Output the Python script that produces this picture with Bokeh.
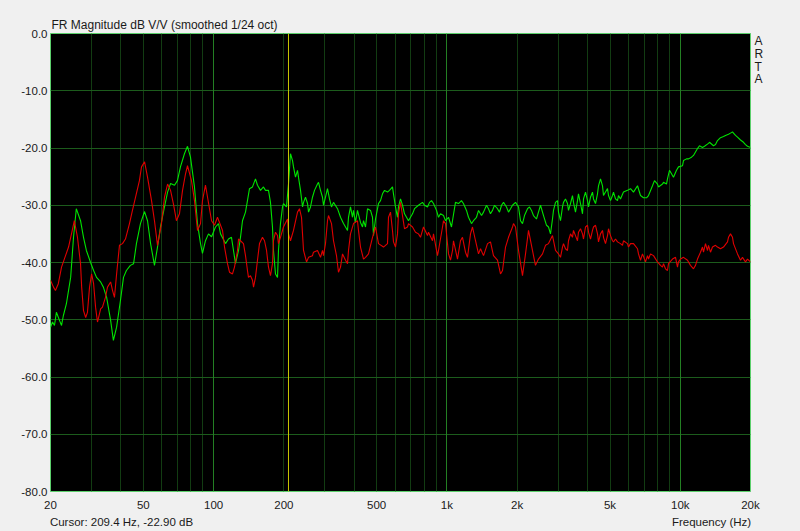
from bokeh.plotting import figure
from bokeh.models import FixedTicker, Grid, Span, Title, LogAxis, LinearAxis
from bokeh.embed import file_html
from bokeh.resources import INLINE

# ---------------- data ----------------
title_text = "FR Magnitude dB V/V (smoothed 1/24 oct)"
cursor_text = "Cursor: 209.4 Hz, -22.90 dB"
x_label_text = "Frequency (Hz)"
brand_letters = ["A", "R", "T", "A"]
cursor_freq = 209.4

x_ticks = [20, 50, 100, 200, 500, 1000, 2000, 5000, 10000, 20000]
x_tick_labels = ["20", "50", "100", "200", "500", "1k", "2k", "5k", "10k", "20k"]
y_ticks = [0, -10, -20, -30, -40, -50, -60, -70, -80]
y_tick_labels = ["0.0", "-10.0", "-20.0", "-30.0", "-40.0", "-50.0", "-60.0", "-70.0", "-80.0"]
decade_lines = [100, 1000, 10000]
minor_lines = [30, 40, 50, 60, 70, 80, 90, 200, 300, 400, 500, 600, 700, 800, 900,
               2000, 3000, 4000, 5000, 6000, 7000, 8000, 9000]
h_lines = [-10, -20, -30, -40, -50, -60, -70]

green_freq = [20.0, 20.4, 20.8, 21.2, 21.9, 22.3, 22.7, 23.4, 24.4, 25.1, 25.8, 26.9, 27.7, 28.5, 29.7,
              30.6, 31.5, 32.8, 33.7, 34.8, 36.2, 37.2, 38.4, 39.9, 41.1, 42.3, 44.0, 45.4, 46.7, 48.6,
              50.6, 52.1, 53.7, 55.8, 57.5, 59.2, 61.6, 63.5, 65.4, 68.0, 70.0, 72.1, 75.0, 77.3, 79.6,
              82.8, 85.3, 87.9, 89.6, 92.3, 95.1, 98.0, 101.9, 105.0, 107.1, 112.5, 115.8, 119.3, 121.7,
              124.1, 127.9, 130.4, 133.0, 137.0, 139.7, 142.5, 146.8, 151.2, 154.2, 158.9, 163.6, 166.9,
              171.9, 175.3, 178.8, 180.6, 184.2, 187.9, 189.7, 193.5, 197.4, 199.3, 205.3, 209.4, 213.6,
              217.9, 220.0, 224.4, 228.9, 231.1, 235.8, 240.5, 242.9, 247.7, 252.7, 255.2, 260.2, 265.4,
              270.7, 278.8, 281.6, 287.2, 292.9, 295.8, 301.7, 307.7, 313.9, 320.1, 326.5, 339.7, 349.9,
              360.4, 374.9, 378.6, 386.1, 393.8, 397.7, 405.6, 413.7, 426.2, 434.7, 439.0, 447.8, 456.7,
              470.4, 479.8, 484.5, 494.2, 509.0, 519.2, 529.5, 540.1, 556.3, 567.4, 584.4, 590.2, 602.0,
              614.0, 620.0, 632.5, 645.1, 658.0, 677.7, 684.4, 712.0, 726.2, 755.4, 785.8, 801.5, 825.6,
              842.1, 858.8, 875.9, 902.3, 920.2, 938.6, 966.8, 986.1, 1016, 1046, 1088, 1121, 1154, 1177,
              1213, 1237, 1274, 1300, 1339, 1366, 1407, 1435, 1478, 1507, 1537, 1568, 1599, 1647, 1680,
              1714, 1748, 1800, 1836, 1873, 1910, 1968, 2027, 2067, 2108, 2150, 2215, 2259, 2304, 2349,
              2420, 2468, 2518, 2594, 2672, 2725, 2779, 2834, 2862, 2920, 2978, 3007, 3067, 3128, 3159,
              3222, 3286, 3319, 3385, 3452, 3487, 3556, 3627, 3663, 3737, 3811, 3849, 3926, 4004, 4044,
              4124, 4206, 4248, 4333, 4419, 4463, 4552, 4643, 4689, 4782, 4877, 4926, 5024, 5124, 5175,
              5278, 5383, 5437, 5545, 5711, 5941, 6120, 6304, 6558, 6755, 6958, 7167, 7310, 7603, 7755,
              7988, 8067, 8392, 8475, 8730, 8816, 8992, 9172, 9354, 9636, 9828, 10224, 10325, 10635,
              10847, 11173, 11395, 11623, 11854, 12091, 12454, 12703, 13214, 13345, 13610, 13881, 14159,
              14441, 14875, 15321, 15628, 16096, 16418, 16745, 16911, 17249, 17592, 18121, 18665, 19038,
              19417, 20000]
green_db = [-51.3, -50.4, -51.0, -48.7, -50.2, -51.0, -49.3, -47.2, -42.6, -35.6, -30.6, -32.7, -35.6, -37.9, -40.0,
            -41.4, -42.6, -43.4, -44.3, -46.1, -50.1, -53.6, -51.3, -46.6, -42.6, -41.4, -40.5, -40.2, -36.7, -33.2,
            -31.1, -32.7, -36.7, -40.5, -37.3, -33.8, -30.3, -27.7, -26.2, -26.5, -25.7, -23.3, -21.0, -19.7, -21.6,
            -26.8, -33.2, -36.7, -38.4, -36.2, -35.0, -35.5, -33.8, -33.2, -35.0, -36.7, -35.9, -35.6, -37.9,
            -40.2, -37.9, -35.6, -32.7, -31.2, -29.2, -27.1, -26.8, -25.4, -26.5, -27.4, -26.8, -27.4,
            -27.4, -29.5, -33.8, -37.9, -42.0, -42.6, -37.9, -33.2, -30.3, -29.7, -30.3, -26.3, -21.0,
            -22.2, -23.3, -25.1, -23.9, -25.1, -27.4, -30.3, -29.5, -28.6, -29.7, -31.2, -30.3, -28.6,
            -27.4, -26.3, -26.0, -27.4, -28.6, -30.0, -28.6, -27.1, -28.9, -30.3, -29.5, -30.6, -32.1,
            -33.2, -34.4, -32.1, -30.3, -32.1, -30.9, -33.0, -30.9, -33.0, -33.8, -32.7, -33.8, -30.6,
            -30.9, -32.1, -35.3, -32.4, -29.7, -29.2, -28.0, -27.4, -27.7, -27.4, -26.8, -28.0, -30.3,
            -32.1, -30.3, -28.9, -30.0, -31.5, -32.4, -32.7, -31.5, -30.6, -30.0, -29.5, -30.0, -30.3,
            -29.5, -29.2, -29.7, -30.9, -32.1, -31.5, -31.8, -32.7, -32.1, -33.8, -29.5, -29.7, -29.2, -29.7,
            -30.9, -32.1, -33.2, -32.7, -32.1, -30.9, -31.8, -31.2, -30.0, -30.6, -31.5, -30.9, -30.0, -30.6, -31.2,
            -30.0, -29.5, -30.3, -31.2, -30.6, -30.0, -29.5, -30.3, -32.7, -33.2, -31.8, -30.6, -30.3, -30.9, -31.8,
            -32.4, -31.2, -30.0, -31.8, -33.5, -33.8, -35.0, -32.4, -30.9, -29.5, -29.2, -31.2, -32.7, -30.3, -29.5,
            -28.9, -29.7, -30.9, -29.7, -28.3, -29.5, -31.2, -29.2, -28.0, -29.7, -31.5, -28.9, -27.7, -29.2, -30.3,
            -28.6, -27.7, -28.9, -29.7, -28.0, -26.6, -25.4, -26.6, -28.3, -27.7, -27.1, -28.3, -29.2, -28.3, -27.7,
            -28.9, -29.2, -28.3, -28.9, -27.7, -27.4, -27.1, -27.7, -26.6, -28.3, -28.7, -28.7, -28.3, -26.6, -25.7,
            -26.3, -26.8, -26.3, -26.0, -26.3, -25.4, -23.9, -24.5, -25.1, -23.9, -23.3, -23.1, -22.2, -21.9,
            -21.9, -21.6, -21.3, -20.7, -20.1, -19.6, -19.9, -19.7, -19.2, -19.0, -19.3, -19.6, -19.4,
            -18.7, -18.2, -18.0, -17.8, -17.6, -17.4, -17.2, -17.4, -17.8, -18.1, -18.6, -19.0, -19.4,
            -19.7, -19.9]

red_freq = [20.0, 20.6, 21.0, 21.6, 22.3, 23.2, 23.9, 24.6, 25.3, 26.1, 26.9, 27.2, 27.7, 28.3, 28.8,
            29.4, 30.0, 30.6, 31.2, 31.8, 32.8, 33.4, 34.4, 35.1, 36.2, 36.9, 37.6, 38.4, 39.5, 40.7,
            41.9, 43.6, 44.9, 46.3, 48.1, 49.1, 50.6, 52.1, 54.2, 55.8, 57.5, 59.8, 61.6, 63.5, 65.4,
            67.3, 69.3, 71.4, 73.6, 75.8, 77.3, 80.4, 82.8, 85.3, 87.9, 89.6, 92.3, 94.2, 98.0, 100.9,
            103.9, 106.0, 109.2, 111.4, 114.7, 117.0, 120.5, 122.9, 126.6, 127.9, 130.4, 134.3, 137.0,
            139.7, 141.1, 143.9, 146.8, 148.3, 151.2, 154.2, 157.3, 162.0, 165.3, 168.6, 171.9, 175.3,
            178.8, 180.6, 184.2, 187.9, 189.7, 193.5, 199.3, 207.4, 209.4, 213.6, 220.0, 228.9, 233.4,
            238.1, 240.5, 242.9, 250.2, 255.2, 265.4, 268.0, 278.8, 287.2, 292.9, 295.8, 301.7, 307.7,
            310.8, 320.1, 326.5, 336.3, 343.0, 349.9, 356.9, 367.6, 374.9, 378.6, 386.1, 397.7, 413.7,
            417.8, 426.2, 439.0, 447.8, 461.2, 479.8, 494.2, 509.0, 534.8, 556.3, 561.8, 573.0, 584.4,
            590.2, 602.0, 614.0, 620.0, 632.5, 645.1, 658.0, 677.7, 684.4, 712.0, 733.4, 755.4, 770.5,
            793.6, 825.6, 833.8, 867.3, 875.9, 911.2, 920.2, 957.3, 966.8, 986.1, 1016, 1036, 1057, 1067,
            1110, 1143, 1166, 1201, 1225, 1262, 1287, 1326, 1366, 1393, 1435, 1493, 1537, 1583, 1647,
            1697, 1731, 1783, 1836, 1910, 1929, 1968, 2027, 2108, 2172, 2237, 2326, 2396, 2468, 2568,
            2645, 2725, 2834, 2920, 3007, 3067, 3128, 3159, 3222, 3286, 3319, 3385, 3452, 3487, 3556,
            3627, 3663, 3737, 3811, 3849, 3926, 4004, 4044, 4124, 4206, 4248, 4333, 4419, 4463, 4552,
            4643, 4689, 4782, 4877, 4926, 5024, 5124, 5175, 5278, 5383, 5545, 5655, 5711, 5941, 6000,
            6120, 6304, 6558, 6622, 6755, 6889, 7097, 7238, 7310, 7455, 7679, 7988, 8228, 8392, 8475,
            8644, 8816, 8904, 9263, 9542, 9731, 9828, 10024, 10325, 10741, 11063, 11395, 11623, 11854,
            12211, 12454, 12577, 12829, 13084, 13214, 13477, 13745, 14159, 14441, 14875, 15321, 15939,
            16096, 16418, 16745, 16911, 17592, 18121, 18482, 19038, 19417, 20000]
red_db = [-43.1, -44.3, -44.9, -43.7, -40.8, -38.8, -37.3, -35.0, -32.7, -35.6, -40.2, -44.3, -48.4, -49.6, -48.7,
          -44.3, -42.0, -43.7, -47.8, -50.4, -48.1, -47.8, -46.1, -44.3, -43.4, -44.9, -46.1, -42.0, -37.0, -36.7,
          -35.9, -33.2, -30.9, -28.6, -25.7, -23.3, -22.4, -25.1, -29.2, -32.7, -37.0, -33.2, -28.6, -26.3, -27.4,
          -29.8, -32.7, -31.5, -27.4, -24.5, -23.1, -25.7, -29.2, -34.4, -33.2, -29.2, -26.5, -28.6, -32.7, -33.5,
          -32.1, -33.0, -34.4, -37.3, -40.2, -41.7, -42.0, -40.8, -37.9, -35.9, -36.2, -36.7, -38.8,
          -41.4, -42.6, -42.3, -43.1, -44.3, -42.6, -39.6, -36.7, -35.6, -36.2, -37.9, -40.8, -42.3,
          -40.2, -36.2, -34.7, -35.3, -36.7, -35.6, -33.8, -32.4, -35.0, -36.2, -34.4, -31.2, -30.6,
          -32.1, -35.0, -37.9, -39.9, -39.1, -38.8, -38.2, -37.9, -39.1, -37.9, -38.8, -36.7, -32.7,
          -31.8, -33.2, -36.2, -38.8, -41.7, -40.8, -38.5, -39.6, -40.2, -37.9, -35.0, -33.2, -32.7,
          -34.4, -37.3, -39.4, -39.1, -38.5, -35.6, -33.8, -36.7, -37.3, -36.7, -32.1, -31.2, -34.4,
          -36.4, -37.3, -35.0, -31.5, -29.5, -31.8, -34.1, -33.8, -33.2, -33.8, -34.7, -35.0, -35.6,
          -33.8, -35.3, -34.7, -36.2, -35.0, -38.8, -37.9, -33.8, -32.7, -33.2, -38.5, -39.6, -37.9, -36.2,
          -39.4, -36.2, -35.6, -38.2, -39.1, -35.0, -33.8, -36.2, -38.5, -37.6, -38.8, -36.7, -36.4, -38.8, -39.6,
          -42.0, -41.4, -37.3, -35.6, -33.8, -33.2, -33.8, -37.9, -42.3, -38.5, -34.4, -37.9, -40.5, -39.4, -38.5,
          -37.0, -36.7, -35.3, -37.9, -38.5, -39.1, -37.3, -36.7, -37.6, -37.9, -36.2, -35.0, -35.6, -34.4, -35.3,
          -36.2, -34.7, -34.1, -35.0, -35.9, -33.8, -33.5, -34.7, -35.9, -34.4, -33.8, -33.5, -35.0, -36.4, -35.0,
          -34.4, -35.6, -36.7, -35.3, -34.1, -35.3, -36.2, -36.4, -35.9, -36.4, -36.7, -37.0, -36.2, -36.7, -37.3,
          -36.7, -36.7, -37.6, -38.5, -39.6, -38.5, -39.9, -38.8, -39.4, -38.5, -38.8, -39.9, -40.5, -40.8, -40.2,
          -41.1, -41.4, -40.2, -39.4, -39.1, -40.8, -39.9, -39.4, -39.1, -39.6, -40.5, -41.1, -40.5, -39.4,
          -38.2, -37.3, -38.2, -36.7, -37.9, -37.0, -38.2, -37.3, -37.0, -37.3, -37.6, -37.3, -36.4,
          -35.6, -35.0, -35.6, -36.7, -38.5, -39.6, -39.1, -39.9, -39.4, -39.9]

# ---------------- layout constants ----------------
FONT = "Liberation Sans"
TXT = "#1a1a1a"
FRAME_W, FRAME_H = 700, 458
X_LO, X_HI, Y_LO, Y_HI = 20, 20000, -80, 0


def freq_at_px(px):
    """frequency found px pixels right of the frame's left edge (text placement only)"""
    return X_LO * (X_HI / X_LO) ** (px / FRAME_W)


def db_at_px(px):
    """dB value px pixels below the frame's top edge (text placement only)"""
    return Y_HI - (Y_HI - Y_LO) * px / FRAME_H


# ---------------- figure ----------------
p = figure(frame_width=FRAME_W, frame_height=FRAME_H, x_axis_type="log",
           x_range=(X_LO, X_HI), y_range=(Y_LO, Y_HI),
           output_backend="svg", toolbar_location=None, title=None,
           min_border_left=50, min_border_right=50, min_border_top=33, min_border_bottom=38,
           background_fill_color="black", border_fill_color="#f0f0f0")

p.outline_line_color = "#5ccf6c"
p.outline_line_width = 1


def style_axis(ax, size="11.5px"):
    ax.axis_line_color = None
    ax.major_tick_line_color = None
    ax.minor_tick_line_color = None
    ax.major_label_text_font = FONT
    ax.major_label_text_font_size = size
    ax.major_label_text_color = TXT


style_axis(p.xaxis[0])
style_axis(p.yaxis[0])
p.xaxis.ticker = FixedTicker(ticks=x_ticks)
p.xaxis.major_label_overrides = {t: s for t, s in zip(x_ticks, x_tick_labels)}
p.xaxis.major_label_standoff = 1
p.yaxis.ticker = FixedTicker(ticks=y_ticks)
p.yaxis.major_label_overrides = {t: s for t, s in zip(y_ticks, y_tick_labels)}
p.yaxis.major_label_standoff = -3

# second row below the frame: cursor read-out (left) and axis name (right)
cursor_pos = freq_at_px(71)
xname_pos = freq_at_px(661)
info_axis = LogAxis(ticker=FixedTicker(ticks=[cursor_pos, xname_pos]),
                    major_label_overrides={cursor_pos: cursor_text, xname_pos: x_label_text},
                    major_label_standoff=-4)
style_axis(info_axis)
p.add_layout(info_axis, "below")

# "ARTA" stacked letters on the right
letter_pos = [db_at_px(d) for d in (7, 20, 33, 45)]
brand_axis = LinearAxis(ticker=FixedTicker(ticks=letter_pos),
                        major_label_overrides={t: s for t, s in zip(letter_pos, brand_letters)},
                        major_label_standoff=-2)
style_axis(brand_axis, "12px")
p.add_layout(brand_axis, "right")

# title
p.add_layout(Title(text=title_text, align="left", offset=1, standoff=3,
                   text_font=FONT, text_font_size="12px", text_font_style="normal",
                   text_color=TXT), "above")

# grids
p.xgrid.ticker = FixedTicker(ticks=minor_lines)
p.xgrid.grid_line_color = "#123c12"
p.xgrid.grid_line_width = 1
p.ygrid.ticker = FixedTicker(ticks=h_lines)
p.ygrid.grid_line_color = "#1c5c1c"
p.ygrid.grid_line_width = 1
p.add_layout(Grid(dimension=0, ticker=FixedTicker(ticks=decade_lines),
                  grid_line_color="#237f23", grid_line_width=1))

p.add_layout(Span(location=cursor_freq, dimension="height", line_color="#c8c800", line_width=1))

p.line(green_freq, green_db, line_color="#00e400", line_width=1.1)
p.line(red_freq, red_db, line_color="#e00000", line_width=1.1)

html = file_html(p, INLINE)
html = html.replace("<head>", "<head><style>body{background:#f0f0f0;}</style>", 1)
open("out.html", "w").write(html)
